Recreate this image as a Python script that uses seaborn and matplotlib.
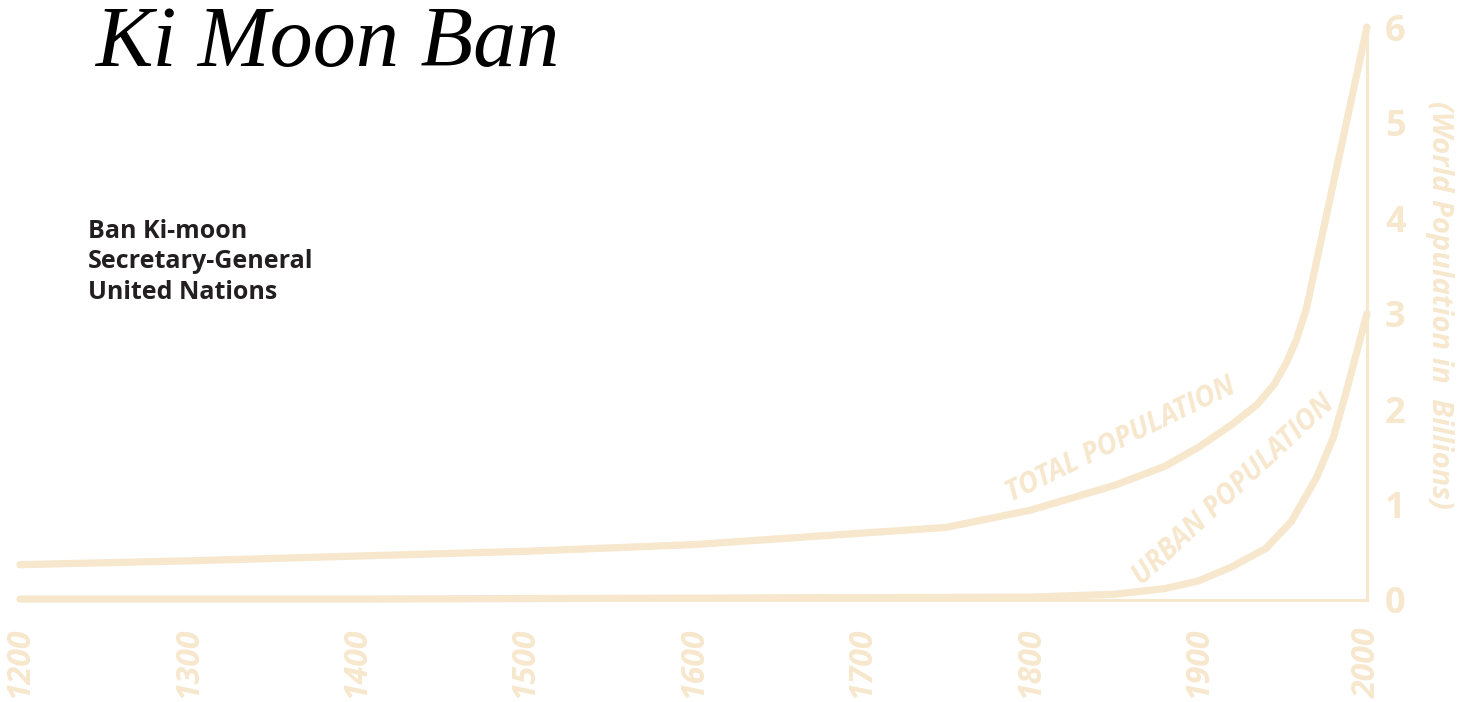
import matplotlib
matplotlib.use("Agg")
import matplotlib.pyplot as plt
import seaborn as sns

# -------------------------------------------------
# Data
# -------------------------------------------------
total_years = [1200, 1300, 1400, 1500, 1600, 1700, 1750, 1800, 1850, 1880,
               1900, 1920, 1935, 1945, 1952, 1958, 1964, 1980, 2000]
total_pop = [0.37, 0.41, 0.46, 0.51, 0.58, 0.70, 0.76, 0.94, 1.20, 1.40,
             1.60, 1.84, 2.05, 2.26, 2.48, 2.72, 3.05, 4.36, 6.0]

urban_years = [1200, 1400, 1600, 1800, 1850, 1880, 1900, 1920, 1940, 1955,
               1970, 1980, 1988, 2000]
urban_pop = [0.01, 0.01, 0.02, 0.03, 0.06, 0.12, 0.20, 0.35, 0.54, 0.82,
             1.28, 1.70, 2.20, 3.0]

x_ticks = [1200, 1300, 1400, 1500, 1600, 1700, 1800, 1900, 2000]
y_ticks = [0, 1, 2, 3, 4, 5, 6]

BEIGE = "#f6e7cd"
DARK = "#231f20"

# -------------------------------------------------
# Figure
# -------------------------------------------------
sns.set_theme(style="white")
plt.rcParams["font.family"] = ["Open Sans", "DejaVu Sans"]

fig = plt.figure(figsize=(14.67, 7.02), dpi=100)
ax = fig.add_axes([0.0136, 0.1453, 0.9182, 0.8162])

sns.lineplot(x=total_years, y=total_pop, ax=ax, color=BEIGE,
             linewidth=5.2, clip_on=False)
sns.lineplot(x=urban_years, y=urban_pop, ax=ax, color=BEIGE,
             linewidth=5.2, clip_on=False)

ax.set_xlim(1200, 2000)
ax.set_ylim(0, 6)

# spines
for side in ["left", "top"]:
    ax.spines[side].set_visible(False)
for side in ["right", "bottom"]:
    ax.spines[side].set_color(BEIGE)
    ax.spines[side].set_linewidth(2.2)

# ticks
ax.yaxis.tick_right()
ax.set_yticks(y_ticks)
ax.set_yticklabels([str(v) for v in y_ticks], fontsize=26,
                   fontweight="bold", color=BEIGE)
ax.set_xticks(x_ticks)
ax.set_xticklabels([str(v) for v in x_ticks], fontsize=23,
                   fontweight="bold", fontstyle="italic", color=BEIGE,
                   rotation=90)
ax.tick_params(axis="y", length=0, pad=13)
ax.tick_params(axis="x", length=0, pad=20)

# axis title on the right
ax.text(1.054, 0.515, "(World Population in  Billions)",
        transform=ax.transAxes, rotation=-90, ha="center", va="center",
        fontsize=21, fontweight="bold", fontstyle="italic", color=BEIGE)

# curve labels
ax.text(1854, 1.67, "TOTAL POPULATION", rotation=26, ha="center",
        va="center", fontsize=20, fontweight="bold", fontstyle="italic",
        color=BEIGE)
ax.text(1921, 1.15, "URBAN POPULATION", rotation=43, ha="center",
        va="center", fontsize=20, fontweight="bold", fontstyle="italic",
        color=BEIGE)

# signature and name block
fig.text(0.065, 0.935, "Ki Moon Ban", fontsize=62, fontstyle="italic",
         family=["Liberation Serif", "DejaVu Serif"], color="black",
         ha="left", va="center")
fig.text(0.06, 0.627, "Ban Ki-moon\nSecretary-General\nUnited Nations",
         fontsize=18, fontweight="bold", color=DARK, ha="left", va="center",
         linespacing=1.3)

fig.savefig("out.png", dpi=100)
